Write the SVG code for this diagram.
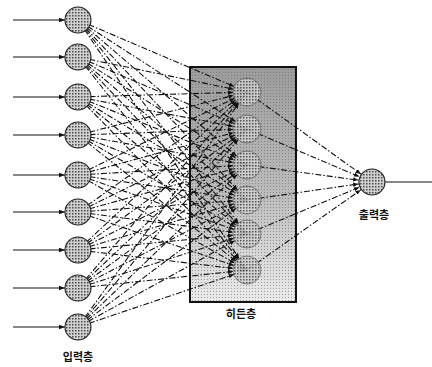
<svg xmlns="http://www.w3.org/2000/svg" width="432" height="367" viewBox="0 0 432 367">
<defs>
<pattern id="dots" width="3" height="3" patternUnits="userSpaceOnUse">
<rect width="3" height="3" fill="#d0d0d0"/>
<rect width="1.5" height="1.5" fill="#4a4a4a"/>
</pattern>
<pattern id="boxdots" width="3" height="3" patternUnits="userSpaceOnUse">
<rect width="3" height="3" fill="none"/>
<rect width="1" height="1" fill="#666"/>
</pattern>
<linearGradient id="boxgrad" x1="0" y1="0" x2="0" y2="1">
<stop offset="0" stop-color="#9c9c9c"/>
<stop offset="0.55" stop-color="#bdbdbd"/>
<stop offset="1" stop-color="#ececec"/>
</linearGradient>
<marker id="ahid" markerUnits="userSpaceOnUse" markerWidth="6" markerHeight="5" refX="19" refY="2.5" orient="auto">
<path d="M0,0.3 L5,2.5 L0,4.7 Z" fill="#111"/>
</marker>
<marker id="ain" markerUnits="userSpaceOnUse" markerWidth="6" markerHeight="6" refX="6" refY="3" orient="auto">
<path d="M0,0.8 L6,3 L0,5.2 Z" fill="#111"/>
</marker>
</defs>
<style>
.node{fill:url(#dots);stroke:#222;stroke-width:1.1}
.hnode{fill:url(#dots);stroke:#555;stroke-width:0.8;opacity:0.85}
.c{stroke:#111;stroke-width:1.1;fill:none;stroke-dasharray:6 2 1.5 2;marker-end:url(#ahid)}
.s{stroke:#111;stroke-width:1.1;fill:none}
.lbl{font-family:"Noto Sans CJK KR","Noto Sans",sans-serif;font-size:11px;font-weight:bold;fill:#111;text-anchor:middle}
</style>
<g id="hidden-layer">
<rect x="190" y="67" width="106" height="235" fill="url(#boxgrad)"/>
<rect x="190" y="67" width="106" height="235" fill="url(#boxdots)" opacity="0.6"/>
<rect x="190" y="67" width="106" height="235" fill="none" stroke="#111" stroke-width="2"/>
</g>
<g id="connectors">
<g id="inputs-in">
<line class="s" x1="13" y1="20" x2="65" y2="20" marker-end="url(#ain)"/>
<line class="s" x1="13" y1="57" x2="65" y2="57" marker-end="url(#ain)"/>
<line class="s" x1="13" y1="97" x2="65" y2="97" marker-end="url(#ain)"/>
<line class="s" x1="13" y1="135" x2="65" y2="135" marker-end="url(#ain)"/>
<line class="s" x1="13" y1="175" x2="65" y2="175" marker-end="url(#ain)"/>
<line class="s" x1="13" y1="212" x2="65" y2="212" marker-end="url(#ain)"/>
<line class="s" x1="13" y1="250" x2="65" y2="250" marker-end="url(#ain)"/>
<line class="s" x1="13" y1="288" x2="65" y2="288" marker-end="url(#ain)"/>
<line class="s" x1="13" y1="327" x2="65" y2="327" marker-end="url(#ain)"/>
</g>
<g id="input-hidden">
<path class="c" d="M78,20L247,92"/><path class="c" d="M78,20L247,129"/><path class="c" d="M78,20L247,165"/><path class="c" d="M78,20L247,200"/><path class="c" d="M78,20L247,234"/><path class="c" d="M78,20L247,270"/>
<path class="c" d="M78,57L247,92"/><path class="c" d="M78,57L247,129"/><path class="c" d="M78,57L247,165"/><path class="c" d="M78,57L247,200"/><path class="c" d="M78,57L247,234"/><path class="c" d="M78,57L247,270"/>
<path class="c" d="M78,97L247,92"/><path class="c" d="M78,97L247,129"/><path class="c" d="M78,97L247,165"/><path class="c" d="M78,97L247,200"/><path class="c" d="M78,97L247,234"/><path class="c" d="M78,97L247,270"/>
<path class="c" d="M78,135L247,92"/><path class="c" d="M78,135L247,129"/><path class="c" d="M78,135L247,165"/><path class="c" d="M78,135L247,200"/><path class="c" d="M78,135L247,234"/><path class="c" d="M78,135L247,270"/>
<path class="c" d="M78,175L247,92"/><path class="c" d="M78,175L247,129"/><path class="c" d="M78,175L247,165"/><path class="c" d="M78,175L247,200"/><path class="c" d="M78,175L247,234"/><path class="c" d="M78,175L247,270"/>
<path class="c" d="M78,212L247,92"/><path class="c" d="M78,212L247,129"/><path class="c" d="M78,212L247,165"/><path class="c" d="M78,212L247,200"/><path class="c" d="M78,212L247,234"/><path class="c" d="M78,212L247,270"/>
<path class="c" d="M78,250L247,92"/><path class="c" d="M78,250L247,129"/><path class="c" d="M78,250L247,165"/><path class="c" d="M78,250L247,200"/><path class="c" d="M78,250L247,234"/><path class="c" d="M78,250L247,270"/>
<path class="c" d="M78,288L247,92"/><path class="c" d="M78,288L247,129"/><path class="c" d="M78,288L247,165"/><path class="c" d="M78,288L247,200"/><path class="c" d="M78,288L247,234"/><path class="c" d="M78,288L247,270"/>
<path class="c" d="M78,327L247,92"/><path class="c" d="M78,327L247,129"/><path class="c" d="M78,327L247,165"/><path class="c" d="M78,327L247,200"/><path class="c" d="M78,327L247,234"/><path class="c" d="M78,327L247,270"/>
</g>
<g id="hidden-output">
<path class="c" d="M247,92L372,182"/><path class="c" d="M247,129L372,182"/><path class="c" d="M247,165L372,182"/><path class="c" d="M247,200L372,182"/><path class="c" d="M247,234L372,182"/><path class="c" d="M247,270L372,182"/>
</g>
<line id="output-out" class="s" x1="385" y1="182" x2="432" y2="182"/>
</g>
<g id="in1"><circle class="node" cx="78" cy="20" r="13"/></g>
<g id="in2"><circle class="node" cx="78" cy="57" r="13"/></g>
<g id="in3"><circle class="node" cx="78" cy="97" r="13"/></g>
<g id="in4"><circle class="node" cx="78" cy="135" r="13"/></g>
<g id="in5"><circle class="node" cx="78" cy="175" r="13"/></g>
<g id="in6"><circle class="node" cx="78" cy="212" r="13"/></g>
<g id="in7"><circle class="node" cx="78" cy="250" r="13"/></g>
<g id="in8"><circle class="node" cx="78" cy="288" r="13"/></g>
<g id="in9"><circle class="node" cx="78" cy="327" r="13"/></g>
<g id="h1"><circle class="hnode" cx="247" cy="92" r="14"/></g>
<g id="h2"><circle class="hnode" cx="247" cy="129" r="14"/></g>
<g id="h3"><circle class="hnode" cx="247" cy="165" r="14"/></g>
<g id="h4"><circle class="hnode" cx="247" cy="200" r="14"/></g>
<g id="h5"><circle class="hnode" cx="247" cy="234" r="14"/></g>
<g id="h6"><circle class="hnode" cx="247" cy="270" r="14"/></g>
<g id="out"><circle class="node" cx="372" cy="182" r="13"/></g>
<g id="labels">
<text class="lbl" x="78" y="361">입력층</text>
<text class="lbl" x="241" y="318">히든층</text>
<text class="lbl" x="374" y="219">출력층</text>
</g>
</svg>
